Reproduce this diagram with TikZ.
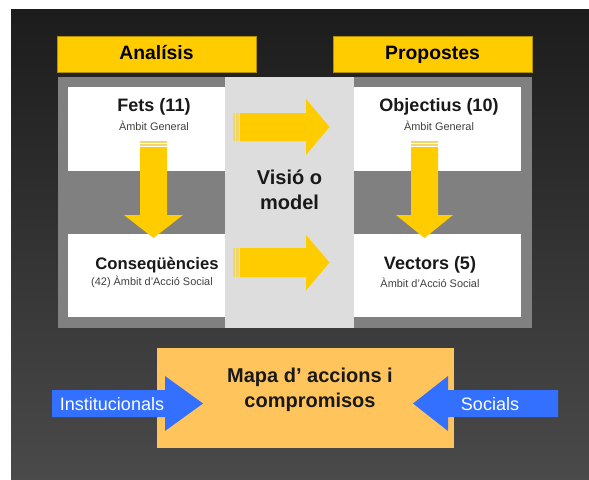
\documentclass[tikz,border=0pt]{standalone}
\usepackage{fontspec}
\setmainfont{Liberation Sans}
\usetikzlibrary{positioning}

\definecolor{bgtop}{HTML}{1C1C1C}
\definecolor{bgbot}{HTML}{4A4A4A}
\definecolor{hdryellow}{HTML}{FFCC00}
\definecolor{stripeyellow}{HTML}{F3D66A}
\definecolor{panelgray}{HTML}{808080}
\definecolor{centergray}{HTML}{DDDDDD}
\definecolor{mapaorange}{HTML}{FFC55C}
\definecolor{sideblue}{HTML}{3370FF}

\tikzset{
  hdrtext/.style={font=\fontsize{14.5}{17}\selectfont\bfseries, text=black, text height=10.5pt, text depth=3pt},
  boxtitle/.style={font=\fontsize{13.5}{16}\selectfont\bfseries, text=black!90, text height=10pt, text depth=3pt},
  boxsub/.style={font=\fontsize{8.2}{10}\selectfont, text=black!75},
  bigtext/.style={font=\fontsize{15}{18.75}\selectfont\bfseries, text=black!90, align=center},
  sidetext/.style={font=\fontsize{13.5}{16}\selectfont, text=white},
}

\begin{document}
\begin{tikzpicture}[x=0.75pt,y=0.75pt,yscale=-1,xscale=1]
\useasboundingbox (0,0) rectangle (589,479);

%Shape: Background
\fill[white] (0,0) rectangle (589,479);
\shade[top color=bgtop, bottom color=bgbot] (11,9) rectangle (589,479);

%Shape: Headers
\draw[fill=hdryellow, draw=hdryellow!70!black, line width=0.4] (57,36) rectangle (256,72);
\draw[fill=hdryellow, draw=hdryellow!70!black, line width=0.4] (333,36) rectangle (532,72);

%Shape: Panel
\fill[panelgray] (58,77) rectangle (532,328);
\fill[centergray] (225,77) rectangle (354,328);
\fill[white] (68,87) rectangle (225,171);
\fill[white] (68,234) rectangle (225,317);
\fill[white] (354,87) rectangle (521,171);
\fill[white] (354,234) rectangle (521,317);

%Shape: Right Arrow (top)
\fill[stripeyellow] (233,113) rectangle (234.8,141);
\fill[stripeyellow] (236.3,113) rectangle (238.5,141);
\fill[hdryellow] (240,113) -- (306,113) -- (306,99) -- (329.5,127) -- (306,155) -- (306,141) -- (240,141) -- cycle;
%Shape: Right Arrow (bottom)
\fill[stripeyellow] (233,248) rectangle (234.8,277);
\fill[stripeyellow] (236.3,248) rectangle (238.5,277);
\fill[hdryellow] (240,248) -- (306,248) -- (306,235) -- (329.5,262.5) -- (306,290.5) -- (306,277) -- (240,277) -- cycle;

%Shape: Down Arrow (left)
\fill[stripeyellow] (140,141) rectangle (167,142.6);
\fill[stripeyellow] (140,143.8) rectangle (167,145.5);
\fill[hdryellow] (140,147) -- (167,147) -- (167,215) -- (183,215) -- (153.5,238) -- (124,215) -- (140,215) -- cycle;
%Shape: Down Arrow (right)
\fill[stripeyellow] (411,141) rectangle (438,142.6);
\fill[stripeyellow] (411,143.8) rectangle (438,145.5);
\fill[hdryellow] (411,147) -- (438,147) -- (438,215) -- (453,215) -- (424.5,238) -- (396,215) -- (411,215) -- cycle;

%Shape: Mapa box
\fill[mapaorange] (157,348) rectangle (454,448);

%Shape: Blue Arrows
\fill[sideblue] (52,390) -- (165,390) -- (165,376) -- (203,403.5) -- (165,431) -- (165,417) -- (52,417) -- cycle;
\fill[sideblue] (558,390) -- (448,390) -- (448,376) -- (413,403.5) -- (448,431) -- (448,417) -- (558,417) -- cycle;

% Text Node
\node[hdrtext] (analisis) at (156.5,54) {Analísis};
\node[hdrtext] (propostes) at (432.5,54) {Propostes};
% Text Node
\node[boxtitle] (fets) at (154,107) {Fets (11)};
\node[boxsub] (fetsSub) at (154,126) {Àmbit General};
\node[boxtitle] (objectius) at (439,107) {Objectius (10)};
\node[boxsub] (objectiusSub) at (439,126) {Àmbit General};
\node[boxtitle, font=\fontsize{12.5}{15}\selectfont\bfseries] (consequencies) at (157,265) {Conseqüències};
\node[boxsub] (consequenciesSub) at (152,282) {(42) Àmbit d’Acció Social};
\node[boxtitle] (vectors) at (430,265) {Vectors (5)};
\node[boxsub] (vectorsSub) at (430,283) {Àmbit d’Acció Social};
% Text Node
\node[bigtext] (visio) at (289.5,189.5) {Visió o\\model};
\node[bigtext] (mapa) at (310,390) {Mapa d’ accions i\\compromisos};
% Text Node
\node[sidetext] (institucionals) at (112,404) {Institucionals};
\node[sidetext] (socials) at (490,404) {Socials};

\end{tikzpicture}
\end{document}
